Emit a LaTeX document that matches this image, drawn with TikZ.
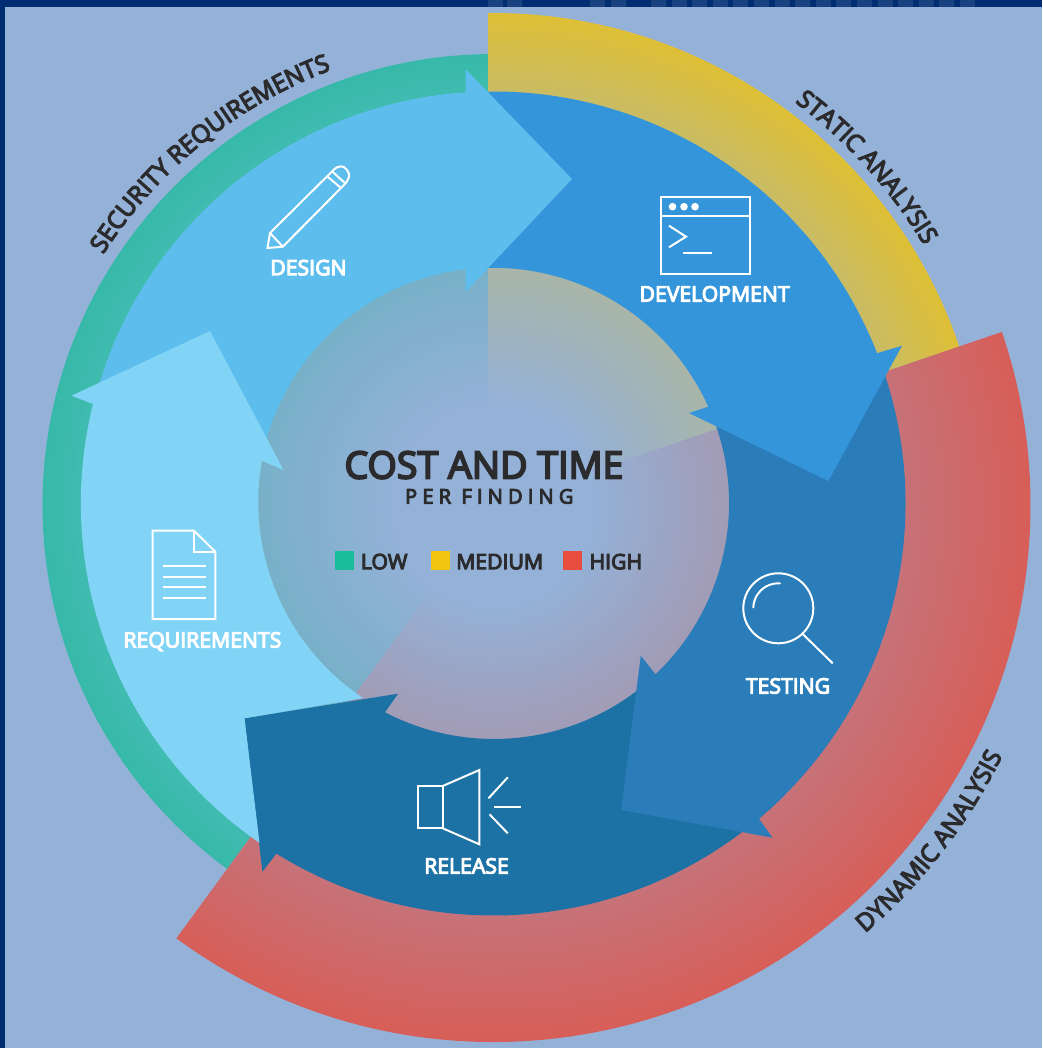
\documentclass[tikz,border=0pt]{standalone}
\usepackage{fontspec}
\setmainfont{Open Sans}
\newfontfamily\semib[FakeBold=5]{Open Sans}
\usetikzlibrary{calc,decorations.text}

\definecolor{pagebg}{HTML}{94B1D7}
\definecolor{navy}{HTML}{002D72}
\definecolor{navyblock}{HTML}{1A4280}
\definecolor{ink}{HTML}{2B2B2E}
\definecolor{reqblue}{HTML}{81D4F5}
\definecolor{desblue}{HTML}{5DBDED}
\definecolor{devblue}{HTML}{3595DB}
\definecolor{testblue}{HTML}{2A7DB8}
\definecolor{relblue}{HTML}{1D72A5}
\definecolor{greenin}{HTML}{78B0C8}
\definecolor{greenmid}{HTML}{40BBB0}
\definecolor{greenout}{HTML}{37B9A9}
\definecolor{yellowin}{HTML}{A8B5A8}
\definecolor{yellowmid}{HTML}{C9BC65}
\definecolor{yellowout}{HTML}{DEBF35}
\definecolor{redin}{HTML}{A29BB5}
\definecolor{redmid}{HTML}{C67278}
\definecolor{redout}{HTML}{D75E58}
\definecolor{lowbox}{HTML}{1ABC9C}
\definecolor{mediumbox}{HTML}{F1C40F}
\definecolor{highbox}{HTML}{E74C3C}

\pgfdeclareradialshading{greenglow}{\pgfpointorigin}{color(0bp)=(pagebg); color(4.63bp)=(pagebg); color(10.93bp)=(greenin); color(19.07bp)=(greenmid); color(20.88bp)=(greenout); color(50bp)=(greenout)}
\pgfdeclareradialshading{yellowglow}{\pgfpointorigin}{color(0bp)=(pagebg); color(4.63bp)=(pagebg); color(10.93bp)=(yellowin); color(19.07bp)=(yellowmid); color(22.78bp)=(yellowout); color(50bp)=(yellowout)}
\pgfdeclareradialshading{redglow}{\pgfpointorigin}{color(0bp)=(pagebg); color(4.63bp)=(pagebg); color(10.93bp)=(redin); color(19.07bp)=(redmid); color(24.86bp)=(redout); color(50bp)=(redout)}

\newcommand{\ringwedge}[5]{%
	\begin{scope}
		\clip (rc) -- (#5) -- ($(rc)+(#1:#3)$) arc[start angle=#1, end angle=#2, radius=#3] -- cycle;
		\shade[shading=#4] (rc) circle (540);
	\end{scope}}
\newcommand{\ringfont}{\semib\fontsize{24.5}{24.5}\selectfont}

\tikzset{
	icon/.style={draw=white, line width=2pt},
	steplabel/.style={font=\semib\fontsize{21.2}{21.2}\selectfont, text=white, inner sep=0pt, text height=15pt, text depth=0pt},
	legendbox/.style={minimum size=19pt, inner sep=0pt},
	legendlabel/.style={font=\semib\fontsize{21.2}{21.2}\selectfont, text=ink, inner sep=0pt, anchor=west, text height=15pt, text depth=0pt}
}

\begin{document}
\begin{tikzpicture}[x=1pt, y=1pt]
		\useasboundingbox (0,0) rectangle (1042,-1048);
		\coordinate (c) at (493.5,-503.5);
		\coordinate (rc) at (493.5,-505);
		\coordinate (seam) at (488.6,-505);

		% page
		\fill[navy] (0,0) rectangle (1042,-1048);
		\foreach \blockx in {488,507,590,611,651,671.6,...,977}
			\fill[navyblock] (\blockx,0) rectangle ++(15,-7);
		\fill[pagebg] (4.5,-7) rectangle (1042,-1048);

		% rings, running on to the centre
		\ringwedge{90.6}{233.8}{451}{greenglow}{seam}
		\ringwedge{90.6}{18.8}{492}{yellowglow}{seam}
		\ringwedge{-126.2}{18.8}{537}{redglow}{rc}

		% arrows of the wheel
		\fill[relblue] (244.5,-718.3) -- (398,-693.7) -- (385,-712.3) arc[start angle=242.5, end angle=315, radius=236] -- ($(c)+(315:412)$) arc[start angle=315, end angle=238.2, radius=412] -- (262.4,-871.7) -- cycle;
		\fill[testblue] (621,-810) -- (640.8,-655.7) -- (655.5,-674.3) arc[start angle=-46.5, end angle=21, radius=236] -- ($(c)+(21:412)$) arc[start angle=21, end angle=-49.9, radius=412] -- (772.5,-837.7) -- cycle;
		\fill[devblue] (828.4,-481) -- (689,-413) -- (708.3,-406.7) arc[start angle=24.3, end angle=92, radius=236] -- ($(c)+(92:412)$) arc[start angle=92, end angle=21.4, radius=412] -- (902,-345.7) -- cycle;
		\fill[desblue] (572,-179) -- (465.5,-69) -- (465.5,-92.3) arc[start angle=93.9, end angle=165.5, radius=412] -- ($(c)+(165.5:236)$) arc[start angle=165.5, end angle=96.8, radius=236] -- (465.5,-270) -- (465.5,-292) -- cycle;
		\fill[reqblue] (210,-331) -- (71.6,-395.7) -- (93,-404) arc[start angle=166.05, end angle=235.5, radius=412] -- (244.5,-718.3) -- (363,-698) arc[start angle=236.2, end angle=170, radius=236] -- (283.5,-470) -- cycle;

		% design icon
		\draw[icon] (267.5,-248) -- (270,-233) -- (333,-170.5) .. controls (338,-165) and (344,-165) .. (347,-170) .. controls (351,-175) and (349,-180) .. (343,-186) -- (282.8,-246.7) -- cycle;
		\draw[icon] (270,-233) -- (282.8,-246.7);
		\draw[icon] (327.6,-176.7) -- (341,-188);
		\draw[icon] (332.6,-171.7) -- (344.8,-183);
		\draw (308.4,-267.7) node[steplabel](design){DESIGN};

		% development icon
		\draw[icon] (661,-196.7) rectangle (749.5,-274);
		\draw[icon] (661,-216) -- (749.5,-216);
		\foreach \dotx in {672.5,684,695}
			\fill[white] (\dotx,-206.7) circle (3.8);
		\draw[icon] (669,-225.7) -- (686,-236.7) -- (669,-247.3);
		\draw[icon] (682.5,-253) -- (712,-253);
		\draw (714.6,-294) node[steplabel](development){DEVELOPMENT};

		% testing icon
		\draw[icon] (778.3,-608.3) circle (35);
		\draw[icon] (802.7,-634) -- (832.7,-663.3);
		\draw[icon, line cap=round] ($(778.3,-608.3)+(178:25)$) arc[start angle=178, end angle=86, radius=25];
		\draw (788,-686) node[steplabel](testing){TESTING};

		% release icon
		\draw[icon] (418.3,-786) rectangle (442.7,-828.3);
		\draw[icon] (442.7,-786) -- (479.4,-770) -- (479.4,-844.3) -- (442.7,-828.3);
		\draw[icon] (507.8,-777.3) -- (488.5,-798.3);
		\draw[icon] (494,-807) -- (520.6,-807);
		\draw[icon] (489.5,-814.3) -- (507.8,-833.3);
		\draw (466.5,-866) node[steplabel](release){RELEASE};

		% requirements icon
		\draw[icon] (194,-530.7) -- (152.7,-530.7) -- (152.7,-619) -- (215.3,-619) -- (215.3,-551.7) -- cycle;
		\draw[icon] (194,-530.7) -- (194,-551.7) -- (215.3,-551.7);
		\foreach \liney in {565.7,576.7,587,598}
			\draw[icon] (163.3,-\liney) -- (205.7,-\liney);
		\draw (202.4,-640) node[steplabel](requirements){REQUIREMENTS};

		% ring labels
		\path[decorate, decoration={text along path, text={|\ringfont|SECURITY REQUIREMENTS}, text color=ink, text align=center}] ($(c)+(160:463)$) arc[start angle=160, end angle=98, radius=463];
		\path[decorate, decoration={text along path, text={|\ringfont|STATIC ANALYSIS}, text color=ink, text align=center}] ($(c)+(72:502)$) arc[start angle=72, end angle=12, radius=502];
		\path[decorate, decoration={text along path, text={|\ringfont|DYNAMIC ANALYSIS}, text color=ink, text align=center}] ($(c)+(-68:568)$) arc[start angle=-68, end angle=-7.5, radius=568];

		% centre
		\draw (484,-465) node[font=\semib\fontsize{37.6}{37.6}\selectfont, text=ink, inner sep=0pt, text height=27pt, text depth=0pt](cost){COST AND TIME};
		\draw (489.3,-496.5) node[font=\semib\addfontfeature{LetterSpace=26}\fontsize{20}{20}\selectfont, text=ink, inner sep=0pt, text height=14pt, text depth=0pt](finding){PER FINDING};

		% legend
		\draw (344.5,-560.5) node[legendbox, fill=lowbox](low){};
		\draw (360.7,-561.7) node[legendlabel](lowtext){LOW};
		\draw (440.5,-560.5) node[legendbox, fill=mediumbox](medium){};
		\draw (456,-561.7) node[legendlabel](mediumtext){MEDIUM};
		\draw (572.7,-560.5) node[legendbox, fill=highbox](high){};
		\draw (589.3,-561.7) node[legendlabel](hightext){HIGH};

	\end{tikzpicture}
\end{document}
